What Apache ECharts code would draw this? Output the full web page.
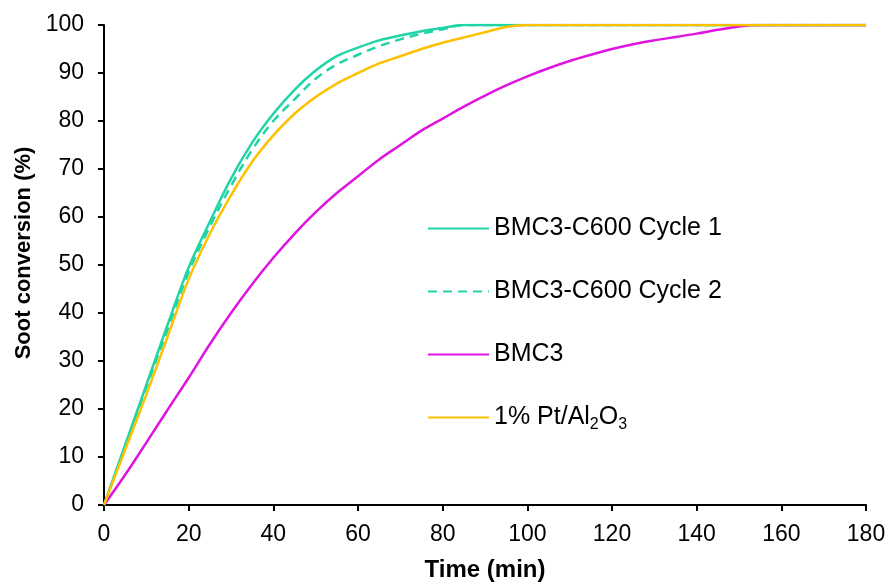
<!DOCTYPE html>
<html>
<head>
<meta charset="utf-8">
<script src="https://cdn.jsdelivr.net/npm/echarts@6/dist/echarts.min.js"></script>
<style>html,body{margin:0;padding:0;background:#fff;}#c{width:891px;height:587px;}</style>
</head>
<body>
<div id="c"></div>
<script>
const times = [0,5,10,15,20,25,30,35,40,45,50,55,60,65,70,75,80,85,90,95,100,105,110,115,120,125,130,135,140,145,150,155,160,165,170,175,180];
const cycle1 = [0,12.5,25,37.5,49.5,59,68,75.5,81.5,86.5,90.5,93.5,95.3,96.8,97.8,98.7,99.4,100,100,100,100,100,100,100,100,100,100,100,100,100,100,100,100,100,100,100,100];
const cycle2 = [0,12.3,24.5,36.5,48.5,58,66.5,74,80,84.5,88.8,91.8,93.8,95.6,97,98.2,99.1,100,100,100,100,100,100,100,100,100,100,100,100,100,100,100,100,100,100,100,100];
const bmc3 = [0,6.3,13,19.8,26.5,33.5,40,46,51.5,56.5,61,65,68.5,72,75,78,80.5,83,85.3,87.4,89.3,91,92.5,93.8,95,96,96.8,97.5,98.2,99,99.7,100,100,100,100,100,100];
const ptal = [0,11.5,23,35,47,56.5,64.5,71.5,77,81.5,85,87.8,90,92,93.5,95,96.3,97.4,98.5,99.6,100,100,100,100,100,100,100,100,100,100,100,100,100,100,100,100,100];
const xTicks = [0,20,40,60,80,100,120,140,160,180];
const yTicks = [0,10,20,30,40,50,60,70,80,90,100];
const names = ['BMC3-C600 Cycle 1','BMC3-C600 Cycle 2','BMC3','1% Pt/Al2O3'];

const pair = arr => times.map((t,i)=>[t,arr[i]]);
const font = '"Liberation Sans", Arial, sans-serif';
const chart = echarts.init(document.getElementById('c'), null, {renderer:'canvas'});
const mk = (name, data, color, type) => ({
  name, type:'line', data: pair(data), smooth: 0.35, symbol:'none',
  lineStyle:{color, width:2.5, type: type || 'solid'}, itemStyle:{color}
});
chart.setOption({
  animation:false,
  backgroundColor:'#fff',
  grid:{left:104, right:25, top:25, bottom:77, containLabel:false},
  xAxis:{type:'value', min:xTicks[0], max:xTicks[xTicks.length-1], interval:xTicks[1]-xTicks[0],
    name:'Time (min)', nameLocation:'middle', nameGap:53,
    nameTextStyle:{fontFamily:font, fontSize:24, fontWeight:'bold', color:'#000'},
    axisLine:{lineStyle:{color:'#000', width:2}},
    axisTick:{show:true, inside:false, length:6, lineStyle:{color:'#000', width:2}},
    axisLabel:{fontFamily:font, fontSize:23, color:'#000', margin:18},
    splitLine:{show:false}},
  yAxis:{type:'value', min:yTicks[0], max:yTicks[yTicks.length-1], interval:yTicks[1]-yTicks[0],
    name:'Soot conversion (%)', nameLocation:'middle', nameGap:68, nameRotate:90,
    nameTextStyle:{fontFamily:font, fontSize:22, fontWeight:'bold', color:'#000', padding:[0,0,0,24]},
    axisLine:{show:true, lineStyle:{color:'#000', width:2}},
    axisTick:{show:true, inside:false, length:6, lineStyle:{color:'#000', width:2}},
    axisLabel:{fontFamily:font, fontSize:23, color:'#000', margin:20},
    splitLine:{show:false}},
  legend:{orient:'vertical', left:422, top:211, itemWidth:61, itemHeight:14, itemGap:38,
    data:names,
    itemStyle:{opacity:0},
    textStyle:{fontFamily:font, fontSize:25, color:'#000',
      rich:{sub:{fontFamily:font, fontSize:16, color:'#000', padding:[14,0,0,0]}}},
    formatter: n => n === '1% Pt/Al2O3' ? '1% Pt/Al{sub|2}O{sub|3}' : n},
  series:[
    mk(names[0], cycle1, '#1FD4A6'),
    mk(names[1], cycle2, '#1FD4A6', [9,6]),
    mk(names[2], bmc3, '#E014E0'),
    mk(names[3], ptal, '#FFC000')
  ]
});
</script>
</body>
</html>
